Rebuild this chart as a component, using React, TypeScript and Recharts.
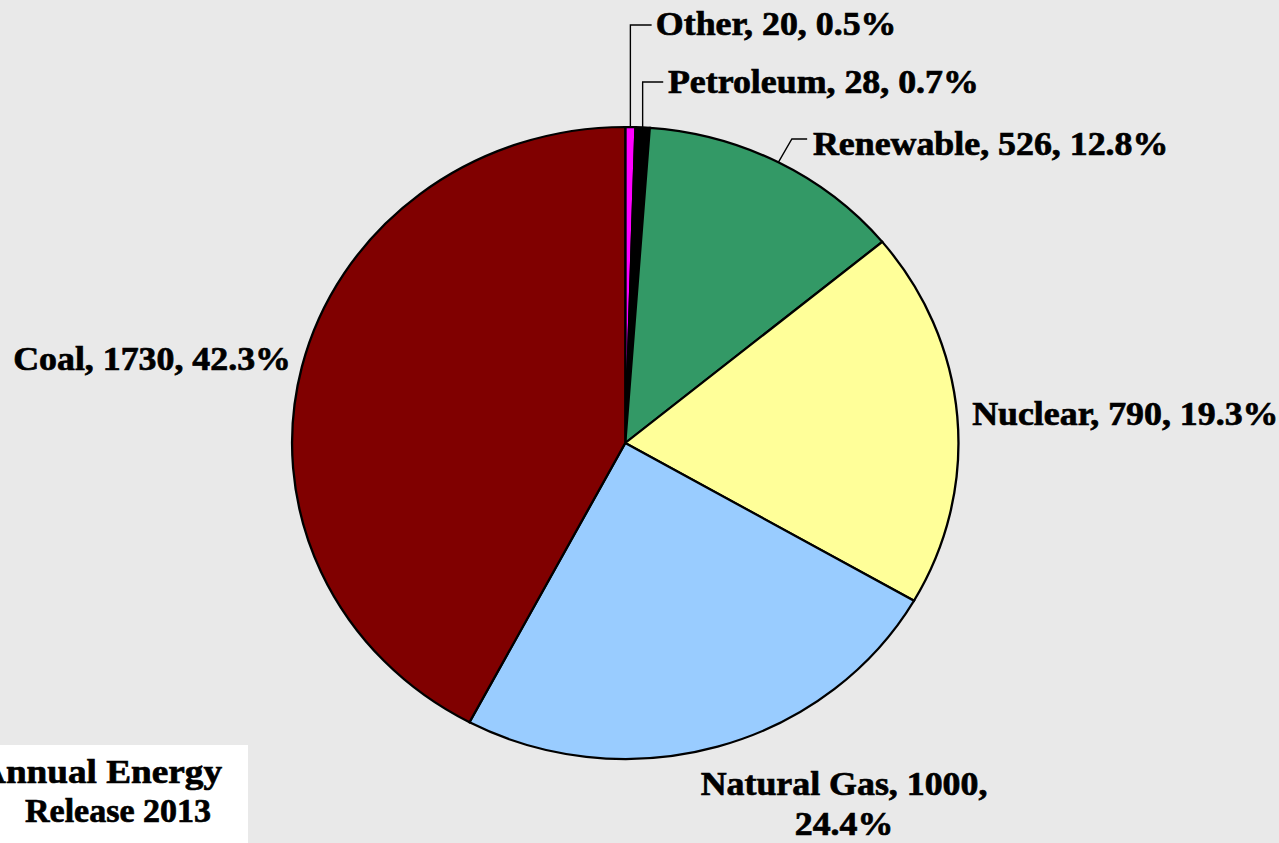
import React from 'react'
import { PieChart, Pie, Cell } from 'recharts'

// 2013 generation by fuel, billion kWh
const fuels = ['Other', 'Petroleum', 'Renewable', 'Nuclear', 'Natural Gas', 'Coal']
const amounts = [20, 28, 526, 790, 1000, 1730]
const fuelColors = ['#ff00ff', '#000000', '#339966', '#ffff99', '#99ccff', '#800000']

const pieData = fuels.map((name, i) => ({ name, value: amounts[i] }))

// the original picture is stretched sideways a bit
const STRETCH = 1279 / 1213

// where each label sits (chart coords, before the stretch)
const labelSpots: Record<string, any> = {
  Other: { x: 622, y: 35, leader: 'up', lineY: 25, lineEnd: 618 },
  Petroleum: { x: 633.5, y: 93, leader: 'up', lineY: 82, lineEnd: 629 },
  Renewable: { x: 771, y: 155, leader: 'bend', bendX: 751, lineY: 139, lineEnd: 765.5 },
  Nuclear: { x: 922, y: 425 },
  'Natural Gas': { x: 800.5, y: 795, anchor: 'middle', split: true },
  Coal: { x: 12.5, y: 370 },
}

const labelFont = {
  fontFamily: '"Liberation Serif", "Times New Roman", serif',
  fontWeight: 700,
  fontSize: 34,
  fill: '#000',
  stroke: '#000',
  strokeWidth: 0.7,
}

const renderLabel = (props: any) => {
  const { cx, cy, midAngle, outerRadius, name, value, percent } = props
  const spot = labelSpots[name]
  if (!spot) return null
  const RAD = Math.PI / 180
  const ex = cx + outerRadius * Math.cos(-midAngle * RAD)
  const ey = cy + outerRadius * Math.sin(-midAngle * RAD)
  const pct = (percent * 100).toFixed(1) + '%'

  let leader = null
  if (spot.leader === 'up') {
    leader = <path d={`M${ex},${ey} L${ex},${spot.lineY} L${spot.lineEnd},${spot.lineY}`} fill="none" stroke="#000" strokeWidth={1.3} />
  } else if (spot.leader === 'bend') {
    leader = <path d={`M${ex},${ey} L${spot.bendX},${spot.lineY} L${spot.lineEnd},${spot.lineY}`} fill="none" stroke="#000" strokeWidth={1.3} />
  }

  return (
    <g>
      {leader}
      {spot.split ? (
        <text x={spot.x} y={spot.y} textAnchor="middle" style={labelFont}>
          <tspan x={spot.x} y={spot.y}>{`${name}, ${value},`}</tspan>
          <tspan x={spot.x} y={spot.y + 40}>{pct}</tspan>
        </text>
      ) : (
        <text x={spot.x} y={spot.y} textAnchor={spot.anchor || 'start'} style={labelFont}>
          {`${name}, ${value}, ${pct}`}
        </text>
      )}
    </g>
  )
}

export default function App() {
  return (
    <div style={{ position: 'absolute', left: 0, top: 0, width: 1279, height: 843, overflow: 'hidden', background: '#e9e9e9' }}>
      <div style={{ transform: `scaleX(${STRETCH})`, transformOrigin: '0 0', width: 1213, height: 843 }}>
        <PieChart width={1213} height={843} margin={{ top: 0, right: 0, bottom: 0, left: 0 }}>
          <Pie
            data={pieData}
            dataKey="value"
            nameKey="name"
            cx={593}
            cy={443}
            outerRadius={316}
            startAngle={90}
            endAngle={-270}
            stroke="#000"
            strokeWidth={2.2}
            label={renderLabel}
            labelLine={false}
            isAnimationActive={false}
          >
            {pieData.map((entry, index) => (
              <Cell key={`cell-${index}`} fill={fuelColors[index]} />
            ))}
          </Pie>
        </PieChart>
      </div>
      {/* source note box, cut off at the left edge like the original */}
      <div style={{ position: 'absolute', left: 0, top: 745, width: 248, height: 98, background: '#fff', overflow: 'hidden' }}>
        <svg width={248} height={98}>
          <text x={-21} y={38} textLength={243} lengthAdjust="spacingAndGlyphs" style={{ ...labelFont, fontSize: 34 }}>Annual Energy</text>
          <text x={211} y={77} textAnchor="end" style={{ ...labelFont, fontSize: 34 }}>Release 2013</text>
        </svg>
      </div>
    </div>
  )
}
